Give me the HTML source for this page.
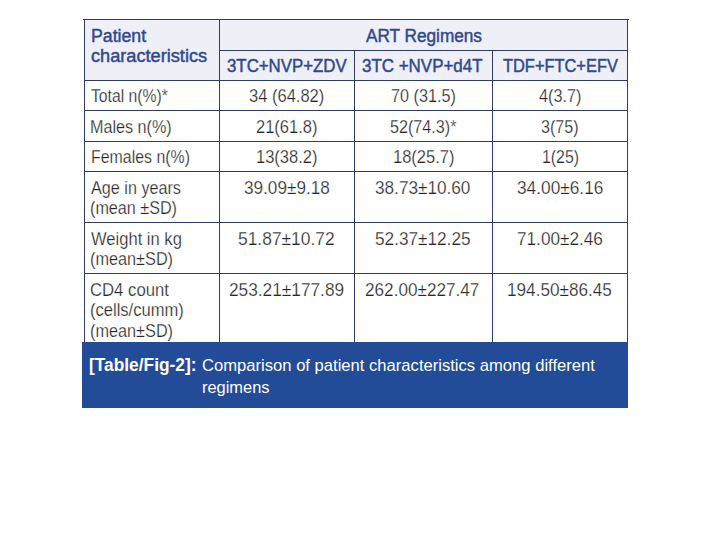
<!DOCTYPE html>
<html><head><meta charset="utf-8"><style>
html,body{margin:0;padding:0;background:#fff;width:719px;height:553px;overflow:hidden;position:relative}
.t{position:absolute;white-space:nowrap;font-family:"Liberation Sans",sans-serif;transform-origin:0 0;line-height:1}
.l{position:absolute;background:#2d3d66}
</style></head><body>

<div style="position:absolute;left:84px;top:19px;width:544px;height:62px;background:#eeeff7"></div>
<div style="position:absolute;left:82px;top:342px;width:546px;height:66px;background:#224b98"></div>
<div class="l" style="left:83px;top:19px;width:546px;height:1px"></div>
<div class="l" style="left:219px;top:50px;width:409px;height:1px"></div>
<div class="l" style="left:84px;top:80px;width:544px;height:1px"></div>
<div class="l" style="left:84px;top:110px;width:544px;height:1px"></div>
<div class="l" style="left:84px;top:141px;width:544px;height:1px"></div>
<div class="l" style="left:84px;top:171px;width:544px;height:1px"></div>
<div class="l" style="left:84px;top:222px;width:544px;height:1px"></div>
<div class="l" style="left:84px;top:273px;width:544px;height:1px"></div>
<div class="l" style="left:84px;top:19px;width:1px;height:323px"></div>
<div class="l" style="left:219px;top:19px;width:1px;height:323px"></div>
<div class="l" style="left:354px;top:50px;width:1px;height:292px"></div>
<div class="l" style="left:492px;top:50px;width:1px;height:292px"></div>
<div class="l" style="left:627px;top:19px;width:1px;height:323px"></div>
<div class="t" style="left:90.69px;top:27.00px;font-size:18px;font-weight:400;color:#2f4890;transform:scaleX(0.9836);-webkit-text-stroke:0.45px #2f4890">Patient</div>
<div class="t" style="left:90.72px;top:47.00px;font-size:18px;font-weight:400;color:#2f4890;transform:scaleX(1.0092);-webkit-text-stroke:0.45px #2f4890">characteristics</div>
<div class="t" style="left:365.96px;top:27.00px;font-size:18px;font-weight:400;color:#2f4890;transform:scaleX(0.9550);-webkit-text-stroke:0.45px #2f4890">ART Regimens</div>
<div class="t" style="left:226.95px;top:57.00px;font-size:18px;font-weight:400;color:#2f4890;transform:scaleX(0.9350);-webkit-text-stroke:0.45px #2f4890">3TC+NVP+ZDV</div>
<div class="t" style="left:362.35px;top:57.00px;font-size:18px;font-weight:400;color:#2f4890;transform:scaleX(0.9411);-webkit-text-stroke:0.45px #2f4890">3TC +NVP+d4T</div>
<div class="t" style="left:502.84px;top:57.00px;font-size:18px;font-weight:400;color:#2f4890;transform:scaleX(0.9115);-webkit-text-stroke:0.45px #2f4890">TDF+FTC+EFV</div>
<div class="t" style="left:90.74px;top:88.00px;font-size:17.5px;font-weight:400;color:#262626;transform:scaleX(0.8994);-webkit-text-stroke:0.25px #fff">Total n(%)*</div>
<div class="t" style="left:90.26px;top:119.00px;font-size:17.5px;font-weight:400;color:#262626;transform:scaleX(0.9238);-webkit-text-stroke:0.25px #fff">Males n(%)</div>
<div class="t" style="left:90.78px;top:149.00px;font-size:17.5px;font-weight:400;color:#262626;transform:scaleX(0.9088);-webkit-text-stroke:0.25px #fff">Females n(%)</div>
<div class="t" style="left:91.01px;top:180.00px;font-size:17.5px;font-weight:400;color:#262626;transform:scaleX(0.9248);-webkit-text-stroke:0.25px #fff">Age in years</div>
<div class="t" style="left:90.38px;top:200.00px;font-size:17.5px;font-weight:400;color:#262626;transform:scaleX(0.9234);-webkit-text-stroke:0.25px #fff">(mean ±SD)</div>
<div class="t" style="left:91.21px;top:231.00px;font-size:17.5px;font-weight:400;color:#262626;transform:scaleX(0.9467);-webkit-text-stroke:0.25px #fff">Weight in kg</div>
<div class="t" style="left:90.38px;top:251.00px;font-size:17.5px;font-weight:400;color:#262626;transform:scaleX(0.9294);-webkit-text-stroke:0.25px #fff">(mean±SD)</div>
<div class="t" style="left:90.44px;top:282.00px;font-size:17.5px;font-weight:400;color:#262626;transform:scaleX(0.9541);-webkit-text-stroke:0.25px #fff">CD4 count</div>
<div class="t" style="left:90.36px;top:302.00px;font-size:17.5px;font-weight:400;color:#262626;transform:scaleX(0.9454);-webkit-text-stroke:0.25px #fff">(cells/cumm)</div>
<div class="t" style="left:90.38px;top:323.00px;font-size:17.5px;font-weight:400;color:#262626;transform:scaleX(0.9294);-webkit-text-stroke:0.25px #fff">(mean±SD)</div>
<div class="t" style="left:249.35px;top:88.00px;font-size:17.5px;font-weight:400;color:#262626;transform:scaleX(0.9435);-webkit-text-stroke:0.25px #fff">34 (64.82)</div>
<div class="t" style="left:256.05px;top:119.00px;font-size:17.5px;font-weight:400;color:#262626;transform:scaleX(0.9430);-webkit-text-stroke:0.25px #fff">21(61.8)</div>
<div class="t" style="left:256.03px;top:149.00px;font-size:17.5px;font-weight:400;color:#262626;transform:scaleX(0.9434);-webkit-text-stroke:0.25px #fff">13(38.2)</div>
<div class="t" style="left:243.66px;top:180.00px;font-size:17.5px;font-weight:400;color:#262626;transform:scaleX(0.9814);-webkit-text-stroke:0.25px #fff">39.09±9.18</div>
<div class="t" style="left:238.30px;top:231.00px;font-size:17.5px;font-weight:400;color:#262626;transform:scaleX(0.9948);-webkit-text-stroke:0.25px #fff">51.87±10.72</div>
<div class="t" style="left:229.21px;top:282.00px;font-size:17.5px;font-weight:400;color:#262626;transform:scaleX(0.9869);-webkit-text-stroke:0.25px #fff">253.21±177.89</div>
<div class="t" style="left:391.07px;top:88.00px;font-size:17.5px;font-weight:400;color:#262626;transform:scaleX(0.9258);-webkit-text-stroke:0.25px #fff">70 (31.5)</div>
<div class="t" style="left:389.95px;top:119.00px;font-size:17.5px;font-weight:400;color:#262626;transform:scaleX(0.9233);-webkit-text-stroke:0.25px #fff">52(74.3)*</div>
<div class="t" style="left:393.03px;top:149.00px;font-size:17.5px;font-weight:400;color:#262626;transform:scaleX(0.9418);-webkit-text-stroke:0.25px #fff">18(25.7)</div>
<div class="t" style="left:375.16px;top:180.00px;font-size:17.5px;font-weight:400;color:#262626;transform:scaleX(0.9817);-webkit-text-stroke:0.25px #fff">38.73±10.60</div>
<div class="t" style="left:375.11px;top:231.00px;font-size:17.5px;font-weight:400;color:#262626;transform:scaleX(0.9828);-webkit-text-stroke:0.25px #fff">52.37±12.25</div>
<div class="t" style="left:365.22px;top:282.00px;font-size:17.5px;font-weight:400;color:#262626;transform:scaleX(0.9804);-webkit-text-stroke:0.25px #fff">262.00±227.47</div>
<div class="t" style="left:538.83px;top:88.00px;font-size:17.5px;font-weight:400;color:#262626;transform:scaleX(0.9266);-webkit-text-stroke:0.25px #fff">4(3.7)</div>
<div class="t" style="left:541.20px;top:119.00px;font-size:17.5px;font-weight:400;color:#262626;transform:scaleX(0.9195);-webkit-text-stroke:0.25px #fff">3(75)</div>
<div class="t" style="left:541.78px;top:149.00px;font-size:17.5px;font-weight:400;color:#262626;transform:scaleX(0.9051);-webkit-text-stroke:0.25px #fff">1(25)</div>
<div class="t" style="left:516.66px;top:180.00px;font-size:17.5px;font-weight:400;color:#262626;transform:scaleX(0.9878);-webkit-text-stroke:0.25px #fff">34.00±6.16</div>
<div class="t" style="left:517.12px;top:231.00px;font-size:17.5px;font-weight:400;color:#262626;transform:scaleX(0.9825);-webkit-text-stroke:0.25px #fff">71.00±2.46</div>
<div class="t" style="left:507.38px;top:282.00px;font-size:17.5px;font-weight:400;color:#262626;transform:scaleX(0.9804);-webkit-text-stroke:0.25px #fff">194.50±86.45</div>
<div class="t" style="left:88.81px;top:357.00px;font-size:17.5px;font-weight:700;color:#ffffff;transform:scaleX(0.9906)">[Table/Fig-2]:</div>
<div class="t" style="left:201.57px;top:357.00px;font-size:17px;font-weight:400;color:#ffffff;transform:scaleX(0.9767)">Comparison of patient characteristics among different</div>
<div class="t" style="left:201.74px;top:379.00px;font-size:17px;font-weight:400;color:#ffffff;transform:scaleX(0.9648)">regimens</div>
</body></html>
